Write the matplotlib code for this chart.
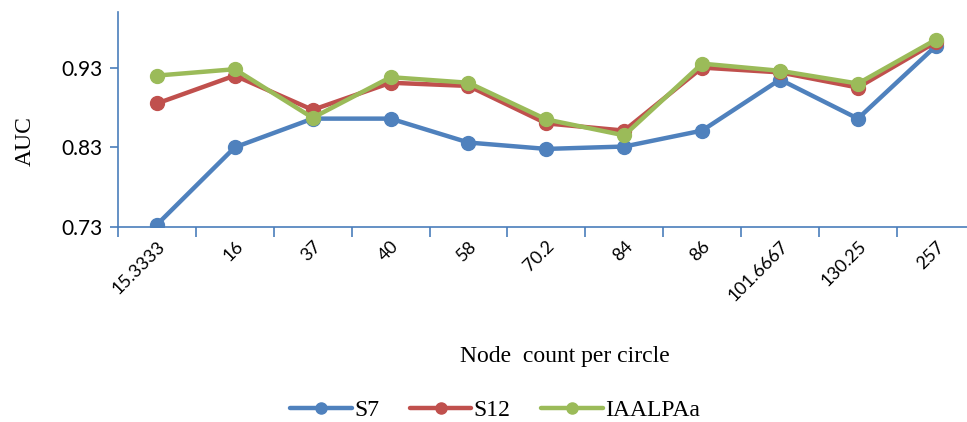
import matplotlib

matplotlib.use("Agg")
import matplotlib.pyplot as plt

categories = ["15.3333", "16", "37", "40", "58", "70.2", "84", "86",
              "101.6667", "130.25", "257"]
s7 = [0.733, 0.830, 0.866, 0.866, 0.836, 0.828, 0.831, 0.851, 0.915, 0.866, 0.957]
s12 = [0.885, 0.920, 0.877, 0.911, 0.907, 0.860, 0.851, 0.930, 0.924, 0.905, 0.962]
iaalpaa = [0.920, 0.928, 0.867, 0.918, 0.911, 0.865, 0.845, 0.935, 0.926, 0.910, 0.965]
y_ticks = [0.73, 0.83, 0.93]

AXIS_COLOR = "#4A7EBB"
SERIF = "Liberation Serif"
SANS = "Lato"

fig = plt.figure(figsize=(9.67, 4.22), dpi=100)
ax = fig.add_axes([0.122, 0.462, 0.886, 0.51])

x = list(range(len(categories)))
series = [("S7", s7, "#4F81BD"), ("S12", s12, "#C0504D"), ("IAALPAa", iaalpaa, "#9BBB59")]
for name, vals, color in series:
    ax.plot(x, vals, color=color, lw=3.2, marker="o", ms=10, label=name,
            solid_capstyle="round")

ax.set_xlim(-0.5, len(categories) - 0.5)
ax.set_ylim(0.73, 1.0)
ax.set_yticks(y_ticks)
ax.set_yticklabels([f"{v:.2f}" for v in y_ticks], fontfamily=SANS, fontsize=15)

ax.set_xticks([i - 0.5 for i in range(len(categories) + 1)])
ax.set_xticklabels([])
ax.set_xticks(x, minor=True)
ax.set_xticklabels(categories, minor=True, rotation=45, ha="right",
                   rotation_mode="anchor", fontfamily=SANS, fontsize=13)
ax.tick_params(axis="x", which="major", length=7, width=1.2, color=AXIS_COLOR,
               direction="out")
ax.tick_params(axis="x", which="minor", length=0, pad=8)
ax.tick_params(axis="y", length=6, width=1.2, color=AXIS_COLOR, direction="out", pad=5)

for side in ["top", "right"]:
    ax.spines[side].set_visible(False)
for side in ["left", "bottom"]:
    ax.spines[side].set_color(AXIS_COLOR)
    ax.spines[side].set_linewidth(1.2)

fig.text(0.026, 0.665, "AUC", fontfamily=SERIF, fontsize=17, rotation=90,
         ha="center", va="center")
fig.text(0.584, 0.155, "Node  count per circle", fontfamily=SERIF, fontsize=17,
         ha="center", va="center")

fig.legend(loc="center", bbox_to_anchor=(0.512, 0.028), ncol=3, frameon=False,
           prop={"family": SERIF, "size": 17}, handlelength=2.6, columnspacing=1.3,
           handletextpad=0.1, markerscale=0.8)

fig.savefig("out.png", dpi=100)
plt.close(fig)
